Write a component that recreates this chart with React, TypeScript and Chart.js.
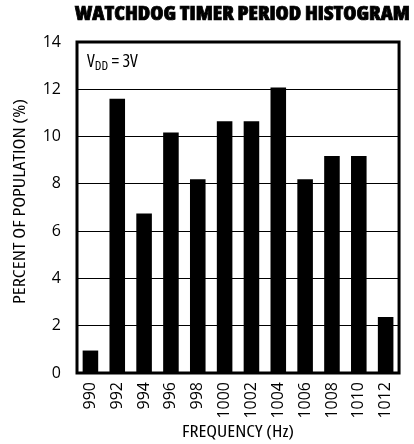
import React, { useEffect, useRef } from "react";
import { Chart, registerables } from "chart.js";

Chart.register(...registerables);

const categories = ["990", "992", "994", "996", "998", "1000", "1002", "1004", "1006", "1008", "1010", "1012"];
const percentValues = [0.95, 11.6, 6.75, 10.17, 8.2, 10.65, 10.65, 12.08, 8.2, 9.18, 9.18, 2.37];
const yTicks = [0, 2, 4, 6, 8, 10, 12, 14];

const chartTitle = "WATCHDOG TIMER PERIOD HISTOGRAM";
const xTitle = "FREQUENCY (Hz)";
const yTitle = "PERCENT OF POPULATION (%)";

const FONT = '"Open Sans", "DejaVu Sans", sans-serif';
const STRETCH = "condensed";

function fitText(ctx: any, text: string, cx: number, cy: number, target: number) {
  const w = ctx.measureText(text).width;
  ctx.save();
  ctx.translate(cx, cy);
  ctx.scale(target / w, 1);
  ctx.fillText(text, 0, 0);
  ctx.restore();
}

const overlayPlugin = {
  id: "overlay",
  afterDraw(chart: any) {
    const { ctx, chartArea } = chart;
    const { left, right, top, bottom } = chartArea;
    ctx.save();
    // frame
    ctx.strokeStyle = "#000";
    ctx.lineWidth = 3;
    ctx.strokeRect(left, top, right - left, bottom - top);
    ctx.fillStyle = "#000";
    // chart title
    ctx.font = `${STRETCH} 800 18px ${FONT}`;
    ctx.textBaseline = "middle";
    ctx.textAlign = "left";
    const w = ctx.measureText(chartTitle).width;
    const target = 335;
    ctx.save();
    ctx.translate(410 - target, 15);
    ctx.scale(target / w, 1.05);
    ctx.lineWidth = 0.7;
    ctx.strokeStyle = "#000";
    ctx.fillText(chartTitle, 0, 0);
    ctx.strokeText(chartTitle, 0, 0);
    ctx.restore();
    // axis titles
    ctx.font = `${STRETCH} 16px ${FONT}`;
    ctx.textAlign = "center";
    ctx.textBaseline = "middle";
    fitText(ctx, xTitle, (left + right) / 2, 432, 112);
    ctx.save();
    ctx.translate(20, (top + bottom) / 2 - 6);
    ctx.rotate(-Math.PI / 2);
    fitText(ctx, yTitle, 0, 0, 205);
    ctx.restore();
    // annotation V_DD = 3V
    ctx.textAlign = "left";
    ctx.font = `${STRETCH} 18px ${FONT}`;
    ctx.textBaseline = "alphabetic";
    let x = left + 10;
    const y = top + 25;
    ctx.fillText("V", x, y);
    x += ctx.measureText("V").width;
    ctx.font = `${STRETCH} 13px ${FONT}`;
    ctx.fillText("DD", x, y + 3);
    x += ctx.measureText("DD").width;
    ctx.font = `${STRETCH} 18px ${FONT}`;
    ctx.fillText(" = 3V", x, y);
    ctx.restore();
  },
};

export default function App() {
  const ref = useRef<HTMLCanvasElement>(null);
  useEffect(() => {
    const canvas = ref.current!;
    const tickFont = { family: FONT, size: 16, style: STRETCH as any };
    const chart = new Chart(canvas, {
      type: "bar",
      data: {
        labels: categories,
        datasets: [
          {
            data: percentValues,
            backgroundColor: "#000",
            borderWidth: 0,
            barPercentage: 0.58,
            categoryPercentage: 1,
          },
        ],
      },
      options: {
        responsive: false,
        animation: false,
        devicePixelRatio: 1,
        layout: { padding: { top: 42, right: 4, left: 0, bottom: 0 } },
        plugins: {
          legend: { display: false },
          tooltip: { enabled: false },
          title: { display: false },
        },
        scales: {
          x: {
            grid: { display: false, drawTicks: false },
            border: { display: false },
            ticks: {
              color: "#000",
              font: tickFont,
              minRotation: 90,
              maxRotation: 90,
              padding: 9,
              autoSkip: false,
            },
            afterFit(scale: any) {
              scale.height = 71;
            },
          },
          y: {
            min: 0,
            max: 14,
            afterBuildTicks(scale: any) {
              scale.ticks = yTicks.map((v) => ({ value: v }));
            },
            grid: { color: "#000", lineWidth: 1, drawTicks: false },
            border: { display: false },
            ticks: {
              color: "#000",
              font: tickFont,
              padding: 16,
            },
            afterFit(scale: any) {
              scale.width = 77;
            },
          },
        },
      },
      plugins: [overlayPlugin],
    });
    return () => chart.destroy();
  }, []);
  return (
    <div style={{ position: "absolute", left: 0, top: 0, width: 414, height: 444, background: "#fff" }}>
      <canvas ref={ref} width={414} height={444} style={{ display: "block", width: 414, height: 444 }} />
    </div>
  );
}
